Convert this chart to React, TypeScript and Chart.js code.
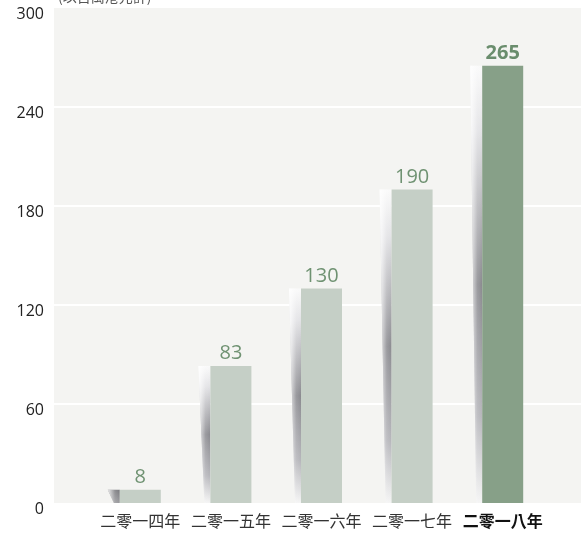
import React, { useEffect, useRef } from "react";
import { Chart, registerables } from "chart.js";

Chart.register(...registerables);

const categories = ["二零一四年", "二零一五年", "二零一六年", "二零一七年", "二零一八年"];
const values = [8, 83, 130, 190, 265];
const barColors = ["#c5cfc6", "#c5cfc6", "#c5cfc6", "#c5cfc6", "#87a088"];
const yTicks = [0, 60, 120, 180, 240, 300];
const unitLabel = "(以百萬港元計)";

const LATIN = "'Open Sans', 'Noto Sans', sans-serif";
const CJK = "'Noto Sans CJK TC', 'Noto Sans', sans-serif";

const bgPlugin = {
  id: "bgPlugin",
  beforeDraw(chart: any) {
    const { ctx, chartArea } = chart;
    const y = chart.scales.y;
    const left = chartArea.left - 41;
    const right = chart.width;
    ctx.save();
    ctx.fillStyle = "#f4f4f2";
    ctx.fillRect(left, chartArea.top, right - left, chartArea.bottom - chartArea.top);
    ctx.strokeStyle = "#ffffff";
    ctx.lineWidth = 2;
    yTicks.forEach((t) => {
      if (t === 0 || t === 300) return;
      const py = Math.round(y.getPixelForValue(t));
      ctx.beginPath();
      ctx.moveTo(left, py);
      ctx.lineTo(right, py);
      ctx.stroke();
    });
    ctx.fillStyle = "#555";
    ctx.font = `14px ${CJK}`;
    ctx.textAlign = "left";
    ctx.textBaseline = "alphabetic";
    ctx.fillText(unitLabel, 58, 2);
    ctx.restore();
  },
  beforeDatasetsDraw(chart: any) {
    const { ctx } = chart;
    const meta = chart.getDatasetMeta(0);
    ctx.save();
    meta.data.forEach((bar: any) => {
      const props = bar.getProps(["x", "y", "base", "width"], true);
      const l = props.x - props.width / 2;
      const top = props.y;
      const base = props.base;
      const h = base - top;
      ctx.beginPath();
      ctx.moveTo(l - 12, top);
      ctx.lineTo(l, top);
      ctx.lineTo(l, base);
      ctx.lineTo(l - 6, base);
      ctx.closePath();
      const g = ctx.createLinearGradient(0, top, 0, base);
      if (h < 30) {
        g.addColorStop(0, "#7a7a7e");
        g.addColorStop(1, "#9a9a9e");
      } else {
        g.addColorStop(0, "#fafafa");
        g.addColorStop(0.15, "#e2e2e5");
        g.addColorStop(0.5, "#8a8a8f");
        g.addColorStop(0.8, "#b5b5ba");
        g.addColorStop(1, "#f4f4f4");
      }
      ctx.fillStyle = g;
      ctx.fill();
      const hg = ctx.createLinearGradient(l - 12, 0, l, 0);
      hg.addColorStop(0, "rgba(255,255,255,0.85)");
      hg.addColorStop(0.6, "rgba(255,255,255,0.15)");
      hg.addColorStop(1, "rgba(255,255,255,0)");
      ctx.fillStyle = hg;
      ctx.fill();
    });
    ctx.restore();
  },
  afterDatasetsDraw(chart: any) {
    const { ctx } = chart;
    const meta = chart.getDatasetMeta(0);
    ctx.save();
    ctx.textAlign = "center";
    ctx.textBaseline = "alphabetic";
    meta.data.forEach((bar: any, i: number) => {
      const last = i === values.length - 1;
      ctx.font = `${last ? "bold " : ""}20px ${LATIN}`;
      ctx.fillStyle = last ? "#6a8d6d" : "#6f9272";
      ctx.fillText(String(values[i]), bar.x, bar.y - 7);
    });
    ctx.restore();
  },
};

export default function App() {
  const ref = useRef<HTMLCanvasElement>(null);
  useEffect(() => {
    document.body.style.margin = "0";
    const chart = new Chart(ref.current!, {
      type: "bar",
      data: {
        labels: categories,
        datasets: [
          {
            data: values,
            backgroundColor: barColors,
            borderWidth: 0,
            barPercentage: 0.4525,
            categoryPercentage: 1,
          },
        ],
      },
      options: {
        animation: false,
        responsive: false,
        maintainAspectRatio: false,
        layout: { padding: { top: 8, right: 33, left: 0, bottom: 0 } },
        plugins: { legend: { display: false }, tooltip: { enabled: false } },
        scales: {
          x: {
            grid: { display: false, drawTicks: false },
            border: { display: false },
            ticks: {
              padding: 8,
              color: (c: any) => (c.index === 4 ? "#111" : "#333"),
              font: (c: any) => ({
                family: CJK,
                size: 16,
                weight: c.index === 4 ? "bold" : "normal",
              }),
            },
            afterFit: (s: any) => {
              s.height = 33;
              s.paddingLeft = 0;
              s.paddingRight = 0;
            },
          },
          y: {
            min: 0,
            max: 300,
            grid: { display: false, drawTicks: false },
            border: { display: false },
            afterBuildTicks: (s: any) => {
              s.ticks = yTicks.map((v) => ({ value: v }));
            },
            ticks: {
              padding: 51,
              labelOffset: 6,
              color: "#222",
              font: { family: LATIN, size: 16 },
            },
            afterFit: (s: any) => {
              s.width = 95;
              s.paddingTop = 0;
              s.paddingBottom = 0;
            },
          },
        },
      },
      plugins: [bgPlugin],
    });
    return () => chart.destroy();
  }, []);
  return <canvas ref={ref} width={581} height={536} style={{ display: "block" }} />;
}
